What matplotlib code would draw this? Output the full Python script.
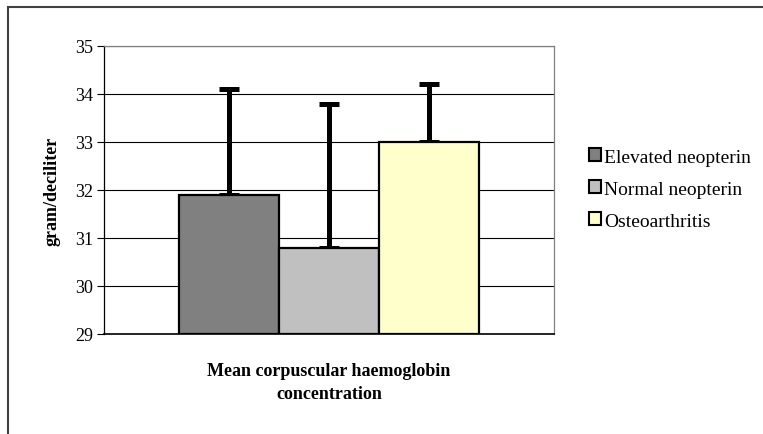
import numpy as np
import matplotlib.pyplot as plt
from matplotlib.patches import Rectangle, Patch

groups = ['Elevated neopterin', 'Normal neopterin', 'Osteoarthritis']
means = [31.9, 30.8, 33.0]
upper_err = [2.2, 3.0, 1.2]
colors = ['#808080', '#C0C0C0', '#FFFFCC']
xlabel = 'Mean corpuscular haemoglobin\nconcentration'
ylabel = 'gram/deciliter'

plt.rcParams['font.family'] = ['Liberation Serif', 'DejaVu Serif']

fig = plt.figure(figsize=(7.63, 4.35), dpi=100)
# outer chart border (cut off at right/bottom like the source)
fig.patches.append(Rectangle((8/763, -0.05), 1.0, 1 - 8/435 + 0.05, transform=fig.transFigure,
                             fill=False, edgecolor='#404040', linewidth=1.5))

ax = fig.add_axes([104/763, 1 - 335/435, 450/763, 288/435])

x = np.arange(len(groups))
w = 1.0
for i in range(len(groups)):
    ax.bar(x[i], means[i] - 29, bottom=29, width=w, color=colors[i], edgecolor='black',
           linewidth=1.6, zorder=3, label=groups[i])
    eb = ax.errorbar(x[i], means[i], yerr=[[0], [upper_err[i]]], fmt='none', ecolor='black',
                     elinewidth=3.6, capsize=7, capthick=3.6, zorder=2)
    for c in eb[1]:
        c.set_solid_capstyle('round')
    for l in eb[2]:
        l.set_capstyle('round')

ax.set_xlim(-1.25, 3.25)
ax.set_ylim(29, 35)
ax.set_yticks(range(29, 36))
ax.yaxis.grid(True, color='black', linewidth=0.8, zorder=0)
ax.set_xticks([])
ax.tick_params(axis='y', labelsize=13, length=5, width=0.8, color='black', pad=3)

for s in ['top', 'right']:
    ax.spines[s].set_color('#808080')
    ax.spines[s].set_linewidth(0.9)
ax.spines['left'].set_linewidth(0.9)
ax.spines['bottom'].set_linewidth(1.2)

ax.set_ylabel(ylabel, fontsize=13, fontweight='bold', labelpad=10)
ax.set_xlabel(xlabel, fontsize=13, fontweight='bold', labelpad=20, linespacing=1.45)

handles = [Patch(facecolor=c, edgecolor='black', linewidth=1.5) for c in colors]
fig.legend(handles, groups, loc='center left', bbox_to_anchor=(581/763, 1 - 190/435),
           frameon=False, fontsize=14, handlelength=0.65, handleheight=0.65,
           handletextpad=0.15, labelspacing=0.75, borderaxespad=0)

fig.savefig('out.png', dpi=100)
